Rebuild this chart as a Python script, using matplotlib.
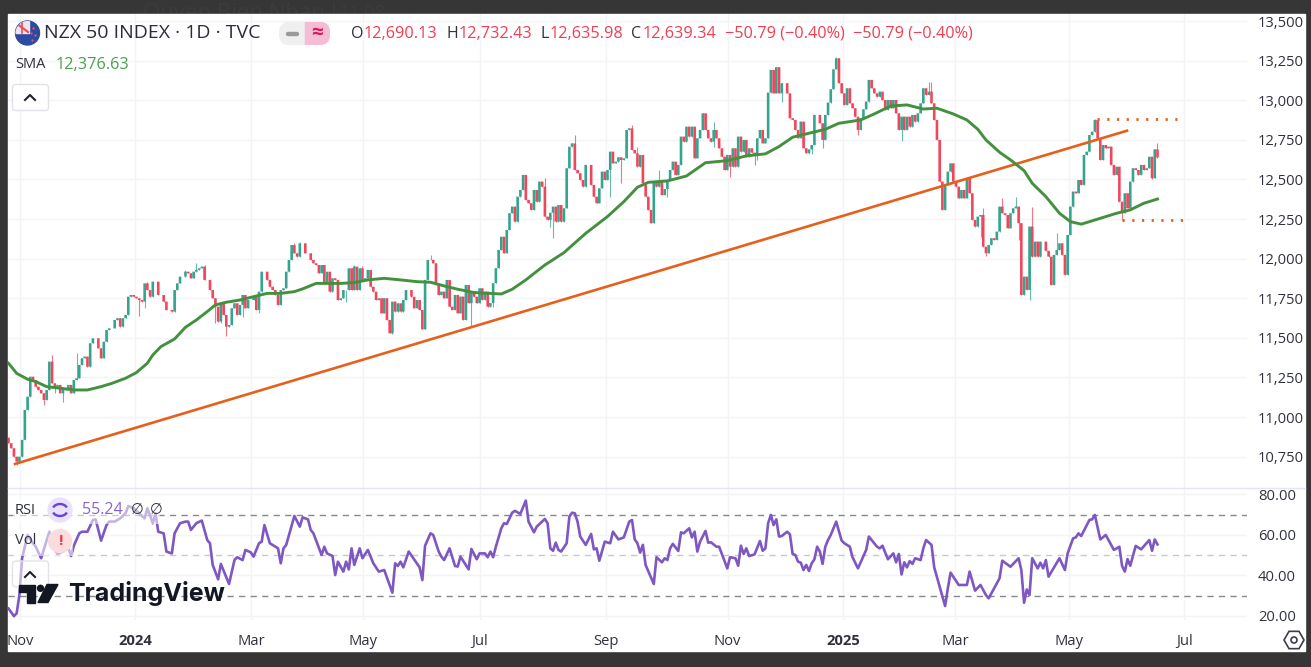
import numpy as np
import matplotlib
matplotlib.use("Agg")
import matplotlib.pyplot as plt
from matplotlib.patches import Rectangle, FancyBboxPatch, Circle, Polygon, RegularPolygon, Arc

plt.rcParams['font.family'] = ['Open Sans', 'DejaVu Sans']

# Daily closes of the index, one per session
close_values = [
    10835, 10803, 10750, 10719, 10750, 10856, 11045, 11129, 11255, 11234,
    11192, 11171, 11150, 11108, 11171, 11350, 11213, 11192, 11203, 11150,
    11171, 11182, 11203, 11150, 11234, 11245, 11329, 11371, 11382, 11318,
    11466, 11497, 11497, 11434, 11371, 11476, 11550, 11560, 11560, 11613,
    11624, 11571, 11624, 11645, 11760, 11771, 11760, 11750, 11739, 11729,
    11844, 11802, 11760, 11855, 11855, 11771, 11771, 11729, 11676, 11676,
    11666, 11802, 11844, 11887, 11887, 11918, 11908, 11876, 11918, 11929,
    11939, 11950, 11866, 11866, 11802, 11750, 11697, 11603, 11718, 11645,
    11571, 11581, 11687, 11718, 11645, 11708, 11771, 11687, 11739, 11739,
    11760, 11676, 11792, 11918, 11918, 11866, 11823, 11802, 11771, 11708,
    11802, 11813, 11918, 11992, 12086, 12034, 12013, 12097, 12097, 12034,
    12034, 11992, 11971, 11960, 11908, 11960, 11844, 11918, 11792, 11876,
    11866, 11739, 11750, 11802, 11802, 11939, 11802, 11950, 11802, 11939,
    11866, 11876, 11929, 11823, 11792, 11739, 11750, 11655, 11750, 11613,
    11529, 11729, 11666, 11718, 11666, 11739, 11802, 11802, 11760, 11687,
    11739, 11676, 11554, 11866, 11992, 11992, 11971, 11844, 11771, 11792,
    11750, 11866,
    11697, 11676, 11771, 11655, 11761, 11613, 11834, 11719, 11792, 11760,
    11719, 11813, 11740, 11792, 11697, 11720, 11845, 11940, 12055, 12139,
    12034, 12181, 12287, 12329, 12234, 12392, 12434, 12529, 12371, 12350,
    12308, 12434, 12360, 12487, 12455, 12266, 12245, 12290, 12329, 12234,
    12339, 12234, 12318, 12571, 12707, 12728, 12560, 12539, 12497, 12455,
    12592, 12592, 12466, 12392, 12350, 12444, 12550, 12497, 12560, 12676,
    12602, 12613, 12640, 12623, 12634, 12813, 12823, 12686, 12665, 12581,
    12655, 12476, 12392, 12308, 12224, 12487, 12455, 12487, 12402, 12440,
    12497, 12560, 12613, 12529, 12592, 12771, 12739, 12834, 12771, 12834,
    12634, 12760, 12813, 12918, 12813, 12760, 12739, 12813, 12760, 12697,
    12644, 12560, 12655, 12581, 12697, 12581, 12771, 12676, 12750, 12644,
    12697, 12670, 12655, 12760, 12813, 12728, 12760,
    13049, 13192, 13044, 13209, 13044, 13108, 13108, 13044, 12887, 12876,
    12813, 12760, 12866, 12697, 12666, 12690, 12718, 12908, 12908, 12855,
    12750, 12908, 12986, 13070, 13196, 13265, 13108, 13044, 12971, 13076,
    12981, 12950, 12897, 12813, 12887, 12943, 12992, 13129, 13076, 13044,
    13023, 13055, 13002, 12939, 13002, 12950, 13002, 12918, 12813, 12897,
    12813, 12897, 12834, 12908, 12866, 12918, 12981, 13076, 13034, 13055,
    12981, 12876, 12750,
    12487, 12308, 12466, 12550, 12602, 12487, 12455, 12381, 12434, 12381,
    12508, 12413, 12245, 12203, 12266, 12276, 12076, 12034, 12087, 12129,
    12118, 12171, 12329, 12287, 12276, 12192, 12287, 12318, 12329, 12224,
    11771, 11887, 11803, 12203, 12013, 12108, 12013, 12108, 12108, 12050,
    12013, 11834, 12024, 12055, 12097, 12024, 11898, 12150, 12329, 12424,
    12413, 12497, 12466, 12655, 12676, 12781, 12802, 12876, 12760, 12623,
    12718, 12697, 12708, 12592, 12529, 12581, 12360, 12287, 12413, 12318,
    12487, 12571, 12560, 12529, 12592, 12560, 12571, 12644, 12508, 12690.13, 12639.34,
]
first_open = 10870

# Sessions whose wicks stick out past the body
high_bars = [16, 25, 51, 65, 69, 72, 95, 105, 107, 127, 130, 155, 197, 208, 229, 231, 239, 259, 304, 338,
             339, 358, 365, 370, 376, 385, 399, 422]
high_values = [11392, 11403, 11855, 11929, 11971, 11960, 11918, 12097, 12107, 11960, 11954, 12023, 12508,
               12781, 12844, 12707, 12560, 12865, 13275, 13118, 13118, 12318, 12381, 12388, 12325, 12160,
               12882, 12732.43]
low_bars = [3, 13, 17, 20, 48, 50, 76, 78, 80, 86, 92, 124, 139, 141, 170, 178, 199, 200, 221, 225, 231,
            242, 259, 265, 274, 275, 284, 294, 295, 299, 312, 328, 357, 359, 371, 375, 409, 420, 422]
low_values = [10700, 11076, 11150, 11098, 11638, 11687, 11592, 11596, 11512, 11630, 11659, 11729, 11613,
              11523, 11571, 11693, 12202, 12129, 12392, 12476, 12602, 12392, 12707, 12518, 12592, 12623,
              12992, 12659, 12662, 12697, 12781, 12746, 12139, 12020, 12118, 11740, 12245, 12503, 12635.98]

sma_bars = [0, 3, 7, 10, 14, 19, 24, 29, 34, 38, 43, 47, 51, 53, 56, 61, 65, 69, 73, 76, 80, 85, 90,
            95, 100, 105, 108, 113, 117, 122, 127, 132, 138, 144, 150, 155, 160, 165, 171, 181, 185,
            190, 197, 204, 212, 220, 226, 231, 235, 242, 249, 256, 264, 271, 278, 283, 288, 294, 300,
            305, 313, 318, 324, 330, 336, 341, 347, 352, 356, 359, 364, 368, 373, 376, 381, 386, 390,
            394, 398, 407, 412, 417, 422]
sma_values = [11340, 11276, 11239, 11224, 11192, 11182, 11171, 11171, 11192, 11213, 11245, 11281, 11340,
              11392, 11445, 11493, 11567, 11613, 11666, 11708, 11725, 11739, 11760, 11781, 11781, 11792,
              11809, 11844, 11844, 11844, 11849, 11866, 11876, 11866, 11855, 11851, 11828, 11807, 11786,
              11777, 11807, 11866, 11960, 12038, 12160, 12266, 12360, 12451, 12482, 12491, 12522, 12606,
              12619, 12649, 12662, 12708, 12767, 12792, 12817, 12855, 12876, 12914, 12964, 12971, 12945,
              12950, 12914, 12876, 12817, 12750, 12672, 12624, 12556, 12476, 12392, 12287, 12234, 12218,
              12239, 12287, 12308, 12350, 12376.63]

rsi_bars = [0, 2, 3, 4, 5, 7, 9, 10, 12, 15, 16, 17, 18, 20, 22, 23, 24, 26, 27, 29, 31, 32, 34, 36, 37,
            39, 41, 43, 44, 46, 50, 51, 53, 54, 55, 57, 58, 60, 61, 63, 65, 66, 67, 69, 71, 73, 74, 75,
            77, 78, 81, 83, 84, 86, 87, 89, 90, 92, 93, 94, 96, 99, 100, 101, 102, 105, 107, 108, 110,
            111, 112, 115, 116, 117, 119, 120, 121, 123, 124, 125, 126, 127, 129, 130, 132, 134, 136,
            138, 141, 142, 143, 144, 145, 147, 150, 151, 152, 153, 155, 156, 158, 159, 160, 162,
            164, 165, 166, 169, 170, 172, 173, 175, 176, 177, 178, 179, 181, 182, 183, 185, 186, 188,
            190, 191, 193, 194, 197, 198, 199, 200, 201, 202, 203, 205, 206, 207, 208, 209, 210, 212,
            214, 215, 216, 217, 219, 221, 222, 224, 226, 228, 229, 230, 231, 232, 233, 234, 237, 238,
            240, 241, 242, 243, 244, 246, 247, 248, 250, 251, 252, 253, 254, 256, 257, 258, 260, 261,
            264, 265, 267, 268, 269, 270, 271, 272, 274, 276, 277, 278, 279, 280, 281, 282, 283, 284,
            286, 287, 288, 289, 290, 291, 292, 293, 294, 295, 296, 297, 298, 299, 300, 301, 302, 304,
            306, 307, 309, 310, 312, 315, 316, 319, 320,
            321, 323, 325, 326, 327, 328, 329, 330, 331, 332, 333, 335, 336, 337, 339, 340, 344, 345,
            346, 349, 352, 353, 355, 357, 359, 360, 362, 364, 365, 368, 370, 371, 372, 373, 374, 375,
            376, 378, 379, 380, 381, 382, 386, 388, 389, 391, 392, 393, 394, 397, 398, 399, 401, 403,
            406, 408, 409, 410, 411, 412, 414, 416, 419, 420, 421, 422]
rsi_values = [23.6, 19.8, 21.2, 30.2, 48.4, 59.9, 55.8, 54.1, 48.4, 61.5, 55.8, 52.5, 50.5, 51.7, 53.3, 49.5,
              54.6, 60.7, 61.5, 61.5, 67.3, 67.6, 57.1, 64.8, 66.5, 66.5, 68.1, 70.6, 74.2, 73.1, 68.1, 73.1,
              65.7, 70.6, 61.5, 60.7, 51.7, 50.8, 60.7, 65.7, 66.5, 66.5, 62.4, 65.7, 67.0, 57.4, 55.8, 45.1,
              38.0, 45.6, 35.7, 47.5, 48.9, 47.5, 52.5, 51.3, 49.2, 55.8, 56.6, 64.8, 55.8, 53.3, 45.9, 53.3,
              55.0, 69.3, 64.0, 68.6, 67.6, 62.4, 60.7, 50.0, 54.1, 50.8, 49.5, 40.1, 46.7, 41.8, 46.7, 42.9,
              53.3, 45.1, 53.3, 48.4, 52.5, 45.9, 41.8, 42.6, 31.4, 45.9, 44.6, 46.7, 43.9, 51.7, 45.9, 43.9,
              37.6, 54.6, 60.7, 59.9, 51.7, 49.2, 47.5, 53.3,
              44.6, 44.3, 49.2, 42.9, 53.0, 47.9, 50.8, 50.8, 48.9, 51.7, 48.9, 54.1, 63.2, 65.7, 65.3, 70.9,
              71.8, 70.3, 76.9, 66.5, 61.2, 64.0, 67.8, 65.7, 53.3, 52.1, 56.1, 52.5, 51.7, 55.8, 69.0, 70.9,
              70.6, 66.5, 59.1, 55.0, 60.4, 52.8, 53.3, 47.2, 56.6, 55.8, 61.5, 57.7, 58.7, 66.5, 67.3, 57.7,
              55.8, 51.2, 55.0, 45.1, 35.7, 48.9, 46.4, 48.4, 47.5, 53.3, 55.5, 52.0, 61.2, 60.7, 63.2, 58.7,
              61.5, 51.7, 56.6, 61.9, 56.1, 56.3, 54.1, 54.1, 43.4, 48.9, 48.4, 44.7, 54.6, 50.5, 53.3, 49.5,
              50.3, 56.9, 52.1, 53.3, 65.7, 69.8, 64.8, 67.6, 59.1, 59.4, 61.5, 60.2, 50.5, 50.0, 46.7, 46.2,
              42.6, 45.1, 42.1, 45.9, 47.9, 54.1, 51.7, 45.6, 54.1, 57.4, 59.9, 66.5, 57.1, 55.8, 54.1, 48.9,
              43.4, 52.5, 59.1, 54.1, 53.3,
              54.6, 47.9, 50.8, 46.4, 50.5, 40.4, 46.4, 43.9, 47.0, 45.6, 48.4, 47.5, 53.3, 57.4, 55.0, 43.9,
              24.8, 33.5, 41.3, 35.2, 35.2, 41.8, 32.4, 35.2, 30.2, 28.6, 33.5, 38.5, 47.2, 44.2, 47.0, 48.4,
              42.6, 26.4, 33.0, 30.2, 48.4, 43.4, 46.2, 43.4, 47.5, 39.3, 48.4, 42.6, 50.8, 58.2, 58.7, 60.7,
              59.4, 67.3, 67.6, 69.8, 57.7, 59.9, 52.5, 54.1, 44.6, 41.8, 48.0, 44.7, 54.5, 52.8, 57.4, 52.1,
              57.7, 55.24]

# Drawn lines on the price pane: rising support and the two dotted levels
trend_bars = [2.4, 410.8]
trend_values = [10704, 12808]
upper_level_bars = [399.8, 431]
upper_level_value = 12882
lower_level_bars = [408.9, 432.6]
lower_level_value = 12242

price_ticks = [10750, 11000, 11250, 11500, 11750, 12000, 12250, 12500, 12750, 13000, 13250, 13500]
rsi_ticks = [20, 40, 60, 80]
rsi_levels = [70, 50, 30]
time_tick_bars = [4.2, 46.5, 89.1, 130.2, 173, 219.3, 264.1, 306.6, 347.8, 389.5, 431.9]
time_tick_labels = ["Nov", "2024", "Mar", "May", "Jul", "Sep", "Nov", "2025", "Mar", "May", "Jul"]

UP = "#35a48f"
DOWN = "#f0465c"
TEXT = "#2f323c"
GRID = "#f3f4f8"
W, H = 1311, 667


def pane(x0, y0, x1, y1):
    # axes rectangle from screen pixels
    return [x0 / W, 1 - y1 / H, (x1 - x0) / W, (y1 - y0) / H]


fig = plt.figure(figsize=(W / 100, H / 100), dpi=100, facecolor="#363636")

backdrop = fig.add_axes([0, 0, 1, 1], zorder=0)
backdrop.set_xlim(0, W)
backdrop.set_ylim(H, 0)
backdrop.axis("off")
backdrop.text(143, 13, "Quyen Bien Nhan !", color="#3c3c3c", fontsize=16, va="center")
backdrop.text(339, 13, "11:08", color="#3c3c3c", fontsize=13, va="center")
backdrop.add_patch(Rectangle((8, 14), 1297, 637, color="white", zorder=3))

ax = fig.add_axes(pane(8, 14, 1247, 488), zorder=1, facecolor="none")
ax_rsi = fig.add_axes(pane(8, 488, 1247, 620), zorder=1, facecolor="none", sharex=ax)

# candles: each session opens at the previous close
closes = np.array(close_values, dtype=float)
opens = np.concatenate(([first_open], closes[:-1]))
bars = np.arange(len(closes))
highs = np.maximum(opens, closes)
lows = np.minimum(opens, closes)
for b, v in zip(high_bars, high_values):
    highs[b] = max(highs[b], v)
for b, v in zip(low_bars, low_values):
    lows[b] = min(lows[b], v)
colors = [UP if c >= o else DOWN for o, c in zip(opens, closes)]

ax.vlines(bars, lows, highs, colors=colors, linewidth=0.8, zorder=2, alpha=0.75)
candle_bodies = ax.bar(bars, closes - opens, bottom=opens, width=0.95, color=colors, linewidth=0, zorder=2)
for body in candle_bodies:
    body.set_snap(False)

ax.plot(sma_bars, sma_values, color="#43913f", linewidth=2.1, zorder=4, solid_joinstyle="round")
ax.plot(trend_bars, trend_values, color="#e5601a", linewidth=1.9, zorder=3)
ax.plot(upper_level_bars, [upper_level_value] * 2, color="#e5601a", linewidth=2,
        linestyle=(0, (0.8, 2.7)), zorder=3)
ax.plot(lower_level_bars, [lower_level_value] * 2, color="#e5601a", linewidth=2,
        linestyle=(0, (0.8, 2.7)), zorder=3)

ax_rsi.plot(rsi_bars, rsi_values, color="#7e57c2", linewidth=1.9, zorder=3)
for level in rsi_levels:
    ax_rsi.axhline(level, color="#c9c9c9" if level == 50 else "#86888f", linewidth=1.0,
                   linestyle=(0, (4.5, 3.8)), zorder=2)

ax.set_xlim(-0.18, 454.88)
ax.set_ylim(10552, 13545)
ax_rsi.set_ylim(17.9, 83.1)

ax.set_yticks(price_ticks)
ax.set_yticklabels(["{:,}".format(t) for t in price_ticks])
ax_rsi.set_yticks(rsi_ticks)
ax_rsi.set_yticklabels(["{:.2f}".format(t) for t in rsi_ticks])
ax_rsi.set_xticks(time_tick_bars)
ax_rsi.set_xticklabels(time_tick_labels)
ax.tick_params(axis="x", labelbottom=False)

for a in (ax, ax_rsi):
    a.yaxis.tick_right()
    a.tick_params(axis="both", length=0, labelsize=10.6, labelcolor=TEXT)
    a.tick_params(axis="y", pad=8)
    a.tick_params(axis="x", pad=10)
    a.grid(True, color=GRID, linewidth=1)
    a.set_axisbelow(True)
    for spine in a.spines.values():
        spine.set_visible(False)

for label_ in ax_rsi.get_xticklabels():
    if label_.get_text() in ("2024", "2025"):
        label_.set_fontweight("bold")

# toolbar-like overlays on top of the panes
chrome = fig.add_axes([0, 0, 1, 1], zorder=5, facecolor="none")
chrome.set_xlim(0, W)
chrome.set_ylim(H, 0)
chrome.axis("off")


def label(x, y, s, **kw):
    kw.setdefault("color", TEXT)
    kw.setdefault("fontsize", 11)
    kw.setdefault("va", "center")
    chrome.text(x, y, s, **kw)


def rounded(x, y, w, h, r, **kw):
    chrome.add_patch(FancyBboxPatch((x, y), w, h, boxstyle="round,pad=0,rounding_size=%s" % r, **kw))


def chevron(cx, cy):
    chrome.plot([cx - 5, cx, cx + 5], [cy + 3, cy - 2, cy + 3], color="#1e222d", linewidth=1.5)


chrome.plot([8, 1305], [488, 488], color="#e4e4f2", linewidth=1)

# header row
flag = Circle((27.5, 33), 12, color="#2b4ba3")
chrome.add_patch(flag)
corner = Polygon([(15, 21), (29, 21), (29, 33), (15, 33)], color="#f4e4e8")
chrome.add_patch(corner)
corner.set_clip_path(flag)
for xs, ys, c, lw in [([16, 28], [23, 32], "#e8505b", 1.6), ([22, 22], [21, 33], "#e8505b", 1.2)]:
    cross, = chrome.plot(xs, ys, color=c, linewidth=lw)
    cross.set_clip_path(flag)
chrome.scatter([33, 31, 35, 32], [28, 33, 35, 40], s=3, color="#e8505b", linewidth=0)

label(44, 33, "NZX 50 INDEX · 1D · TVC", fontsize=14, color="#2a2e39")

rounded(279, 22, 51, 23, 10, facecolor="#efefef", edgecolor="none")
pink = Rectangle((305, 22), 25, 23, color="#f4bdd3")
chrome.add_patch(pink)
pink_clip = FancyBboxPatch((279, 22), 51, 23, boxstyle="round,pad=0,rounding_size=10",
                           transform=chrome.transData, facecolor="none", edgecolor="none")
chrome.add_patch(pink_clip)
pink.set_clip_path(pink_clip)
chrome.plot([288, 297], [33.5, 33.5], color="#9a9a9a", linewidth=3.2, solid_capstyle="round")
label(317, 33, "≈", color="#d81b60", fontsize=15, ha="center", fontweight="bold")

RED = "#f23d53"
for letter, lx, value, vx in [("O", 351, "12,690.13", 364), ("H", 446, "12,732.43", 459),
                              ("L", 540, "12,635.98", 550), ("C", 631, "12,639.34", 643)]:
    label(lx, 34, letter, fontsize=11.5)
    label(vx, 34, value, color=RED, fontsize=11.7)
label(725, 34, "−50.79 (−0.40%)", color=RED, fontsize=11.7)
label(853, 34, "−50.79 (−0.40%)", color=RED, fontsize=11.7)

label(15, 65, "SMA", fontsize=10.5)
label(56, 65, "12,376.63", color="#4a9f4f", fontsize=11.7)

rounded(12.5, 84.5, 36, 26, 3, facecolor="white", edgecolor="#e2e3e8", linewidth=1)
chevron(30, 97)

# indicator legends wash out the RSI line beneath them
chrome.add_patch(Rectangle((13, 498), 147, 26, color="white", alpha=0.55, linewidth=0))
chrome.add_patch(Rectangle((13, 529), 60, 27, color="white", alpha=0.55, linewidth=0))
label(15, 510, "RSI", fontsize=10.5)
chrome.add_patch(Circle((60, 510), 12, color="#e8e2fa"))
for start, end in [(200, 340), (20, 160)]:
    chrome.add_patch(Arc((60, 510), 15, 12, theta1=start, theta2=end, color="#6a3fe0", linewidth=1.7))
label(82, 510, "55.24", color="#8767cb", fontsize=11.6)
label(131, 510, "∅", fontsize=10.5)
label(150, 510, "∅", fontsize=10.5)
label(15, 541, "Vol", fontsize=10.5)
chrome.add_patch(Circle((60, 541), 11.5, color="#fbdcdc"))
label(60, 541, "!", color="#e8394c", fontsize=11, fontweight="bold", ha="center")

rounded(12.5, 561, 36, 26, 3, facecolor=(1, 1, 1, 0.55), edgecolor="#e2e3e8", linewidth=1)
chevron(30, 574)

# watermark
LOGO = "#131722"
chrome.add_patch(Polygon([(19, 585), (35, 585), (35, 602.5), (27, 602.5), (27, 592), (19, 592)], color=LOGO))
chrome.add_patch(Circle((40.5, 588.3), 3, color=LOGO))
chrome.add_patch(Polygon([(47, 584.5), (58, 584.5), (48, 602.5), (38, 602.5)], color=LOGO))
label(68, 594, "TradingView", color=LOGO, fontsize=18, fontweight="bold", family=["Inter", "DejaVu Sans"])

# settings button in the corner of the scales
chrome.add_patch(RegularPolygon((1294, 640), 6, radius=10, orientation=np.pi / 2,
                                facecolor="none", edgecolor="#3a3d47", linewidth=1.2))
chrome.add_patch(Circle((1294, 640), 3, facecolor="none", edgecolor="#3a3d47", linewidth=1.2))

fig.savefig("out.png", dpi=100, facecolor=fig.get_facecolor())
